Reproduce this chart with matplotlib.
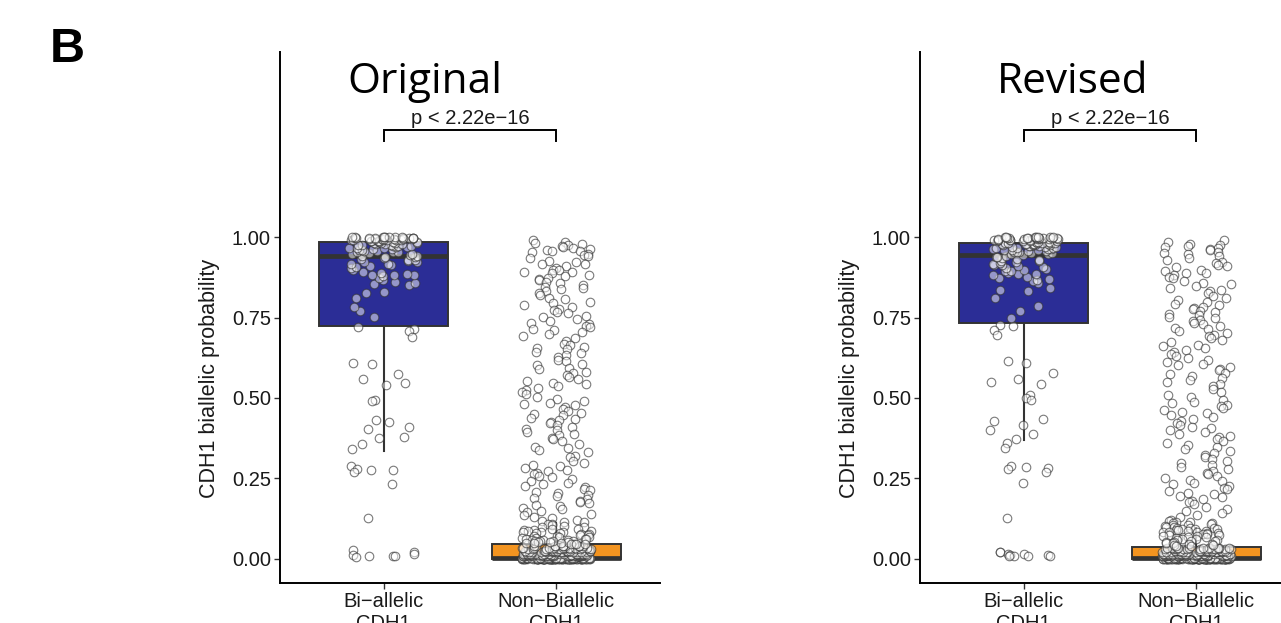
import numpy as np
import matplotlib
matplotlib.use("Agg")
import matplotlib.pyplot as plt

plt.rcParams['font.family'] = ['Liberation Sans', 'DejaVu Sans']

# ---------------- data ----------------
categories = ["Bi\u2212allelic\nCDH1", "Non\u2212Biallelic\nCDH1"]
panel_titles = ["Original", "Revised"]
p_label = "p < 2.22e\u221216"
panel_letter = "B"
y_label = "CDH1 biallelic probability"
y_ticks = [0.0, 0.25, 0.5, 0.75, 1.0]
y_ticklabels = ["0.00", "0.25", "0.50", "0.75", "1.00"]

# box statistics: q1, median, q3, lower whisker, upper whisker
box_orig_bi = [0.725, 0.94, 0.985, 0.335, 1.0]
box_orig_non = [0.0, 0.002, 0.045, 0.0, 0.11]
box_rev_bi = [0.733, 0.944, 0.98, 0.37, 1.0]
box_rev_non = [0.0, 0.002, 0.037, 0.0, 0.095]

bi_orig = [
    0.72, 0.715, 0.708, 0.69, 0.61, 0.605, 0.575, 0.56, 0.545, 0.54, 0.495, 0.49,
    0.43, 0.425, 0.41, 0.405, 0.38, 0.375, 0.357, 0.34, 0.288, 0.28, 0.277, 0.275,
    0.27, 0.233, 0.127, 0.028, 0.02, 0.015, 0.012, 0.01, 0.008, 0.005, 0.01,
    0.752, 0.77, 0.784, 0.81, 0.825, 0.83, 0.851, 0.853, 0.856, 0.859, 0.866, 0.874,
    0.879, 0.881, 0.882, 0.883, 0.884, 0.887, 0.892, 0.897, 0.905, 0.907, 0.911,
    0.913, 0.916, 0.917, 0.921, 0.923, 0.925, 0.928, 0.93, 0.933, 0.934, 0.937, 0.939,
    0.941, 0.942, 0.944, 0.947, 0.948, 0.951, 0.952, 0.953, 0.955, 0.957, 0.958,
    0.96, 0.961, 0.962, 0.963, 0.965, 0.966, 0.967, 0.969, 0.97, 0.971, 0.972,
    0.973, 0.974, 0.975, 0.976, 0.977, 0.978, 0.979, 0.98, 0.981, 0.982, 0.983,
    0.984, 0.985,
    0.986, 0.987, 0.988, 0.988, 0.989, 0.99, 0.99, 0.991, 0.991, 0.992, 0.992,
    0.993, 0.993, 0.994, 0.994, 0.995, 0.995, 0.995, 0.996, 0.996, 0.996, 0.997,
    0.997, 0.997, 0.998, 0.998, 0.998, 0.999, 0.999, 0.999, 1.0, 1.0, 1.0, 1.0, 1.0,
]

bi_rev = [
    0.724, 0.726, 0.711, 0.695, 0.615, 0.608, 0.579, 0.56, 0.55, 0.543, 0.509,
    0.501, 0.494, 0.436, 0.429, 0.415, 0.4, 0.387, 0.374, 0.359, 0.343, 0.289,
    0.284, 0.282, 0.28, 0.271, 0.235, 0.126, 0.02, 0.02, 0.015, 0.015, 0.013,
    0.012, 0.01, 0.01, 0.01, 0.008,
    0.749, 0.77, 0.786, 0.811, 0.832, 0.834, 0.843, 0.858, 0.862, 0.866, 0.87,
    0.874, 0.877, 0.881, 0.884, 0.886, 0.889, 0.893, 0.896, 0.898, 0.9, 0.903,
    0.906, 0.909, 0.912, 0.914, 0.917, 0.92, 0.922, 0.925, 0.927, 0.93, 0.932,
    0.935, 0.937, 0.939, 0.942,
    0.945, 0.946, 0.948, 0.949, 0.951, 0.952, 0.953, 0.955, 0.956, 0.957, 0.959,
    0.96, 0.961, 0.962, 0.963, 0.964, 0.965, 0.966, 0.967, 0.968, 0.969, 0.97,
    0.971, 0.972, 0.973, 0.974, 0.975, 0.975, 0.976, 0.977, 0.977, 0.978, 0.978,
    0.979, 0.979, 0.98, 0.98, 0.98,
    0.981, 0.982, 0.983, 0.984, 0.985, 0.986, 0.987, 0.987, 0.988, 0.989, 0.99,
    0.99, 0.991, 0.991, 0.992, 0.992, 0.993, 0.993, 0.994, 0.994, 0.995, 0.995,
    0.996, 0.996, 0.996, 0.997, 0.997, 0.997, 0.998, 0.998, 0.998, 0.999, 0.999,
    0.999, 1.0, 1.0, 1.0, 1.0,
]

nonbi_orig = [
    0.99, 0.986, 0.981, 0.978, 0.974, 0.973, 0.969, 0.966, 0.964, 0.961, 0.958,
    0.957, 0.953, 0.948, 0.944, 0.941, 0.934,
    0.926, 0.921, 0.917, 0.915, 0.911, 0.904, 0.899, 0.897, 0.892, 0.89, 0.887,
    0.882, 0.879, 0.874, 0.871,
    0.867, 0.861, 0.857, 0.852, 0.846, 0.841, 0.838, 0.833, 0.827, 0.821, 0.811, 0.806,
    0.799, 0.796, 0.789, 0.784, 0.777, 0.773, 0.767, 0.763, 0.756, 0.751, 0.744,
    0.739, 0.733, 0.731, 0.725, 0.721, 0.714, 0.711, 0.704, 0.699, 0.692, 0.686, 0.676,
    0.668, 0.664, 0.658, 0.654, 0.651, 0.644, 0.641, 0.632, 0.628, 0.619, 0.614,
    0.606, 0.601, 0.594, 0.589, 0.582, 0.577, 0.571, 0.564, 0.559, 0.553,
    0.547, 0.544, 0.537, 0.532, 0.526, 0.517, 0.511, 0.502, 0.496,
    0.491, 0.485, 0.481, 0.478, 0.471, 0.467, 0.461, 0.454, 0.451, 0.446, 0.439, 0.436,
    0.431, 0.424, 0.421, 0.415, 0.411, 0.404, 0.401, 0.394, 0.389, 0.385, 0.377, 0.372,
    0.367, 0.356, 0.349, 0.346, 0.337, 0.331, 0.321, 0.316, 0.304,
    0.298, 0.291, 0.289, 0.282, 0.277, 0.273, 0.267, 0.263, 0.257, 0.253, 0.247, 0.243,
    0.237, 0.234, 0.227, 0.224, 0.218, 0.215, 0.208, 0.205, 0.199, 0.196, 0.189, 0.187, 0.181,
    0.177, 0.174, 0.167, 0.164, 0.157, 0.155, 0.148, 0.145, 0.138, 0.136, 0.129, 0.127, 0.121,
    0.118, 0.116, 0.113, 0.109, 0.108, 0.104, 0.103, 0.099, 0.098, 0.094, 0.093,
    0.09, 0.089, 0.087, 0.086, 0.084, 0.083, 0.082, 0.081, 0.079,
    0.078, 0.077, 0.074, 0.073, 0.071, 0.07, 0.069, 0.067, 0.066, 0.064, 0.063,
    0.062, 0.061, 0.06, 0.059, 0.058, 0.057, 0.056, 0.055, 0.054, 0.053, 0.052,
    0.051, 0.05, 0.049, 0.048, 0.047, 0.046, 0.046, 0.045,
]
# dense pile near zero: value levels and how many points sit at each
nonbi_orig_pile_values = [0.0, 0.004, 0.008, 0.012, 0.016, 0.02, 0.025, 0.03, 0.035, 0.04]
nonbi_orig_pile_counts = [70, 30, 24, 20, 18, 16, 14, 12, 11, 10]

nonbi_rev = [
    0.992, 0.985, 0.979, 0.976, 0.972, 0.969, 0.967, 0.963, 0.959, 0.955, 0.951, 0.946, 0.941, 0.936,
    0.928, 0.923, 0.919, 0.914, 0.91, 0.906, 0.899, 0.894, 0.889, 0.887, 0.881, 0.876, 0.872,
    0.864, 0.858, 0.853, 0.849, 0.843, 0.836, 0.831, 0.826, 0.818, 0.811, 0.803,
    0.797, 0.793, 0.789, 0.784, 0.781, 0.776, 0.771, 0.767, 0.762, 0.759, 0.753, 0.749, 0.743,
    0.738, 0.733, 0.729, 0.724, 0.718, 0.713, 0.709, 0.703, 0.697, 0.692, 0.687, 0.681, 0.673,
    0.666, 0.661, 0.655, 0.648, 0.642, 0.637, 0.63, 0.625, 0.618, 0.612,
    0.607, 0.601, 0.597, 0.591, 0.586, 0.579, 0.575, 0.568, 0.562, 0.556, 0.551,
    0.544, 0.536, 0.528, 0.52, 0.51, 0.502, 0.494,
    0.488, 0.483, 0.478, 0.474, 0.468, 0.462, 0.457, 0.452, 0.447, 0.441, 0.434,
    0.428, 0.422, 0.417, 0.411, 0.406, 0.399, 0.394, 0.389, 0.383, 0.378, 0.371,
    0.366, 0.361, 0.354, 0.347, 0.341, 0.336, 0.329, 0.323, 0.317, 0.31, 0.303,
    0.297, 0.291, 0.286, 0.28, 0.274, 0.268, 0.263, 0.257, 0.252, 0.246, 0.241,
    0.237, 0.232, 0.226, 0.221, 0.216, 0.211, 0.206, 0.201, 0.196, 0.191, 0.186, 0.181,
    0.176, 0.169, 0.162, 0.156, 0.149, 0.142, 0.136, 0.129, 0.122,
    0.118, 0.116, 0.114, 0.112, 0.11, 0.108, 0.106, 0.104, 0.102, 0.1, 0.099,
    0.097, 0.096, 0.095, 0.094, 0.093, 0.092, 0.091,
    0.089, 0.088, 0.086, 0.085, 0.083, 0.082, 0.08, 0.079, 0.077, 0.076, 0.074,
    0.073, 0.071, 0.07, 0.068, 0.067, 0.065, 0.064, 0.062, 0.061, 0.059, 0.058,
    0.056, 0.055, 0.053, 0.052, 0.05, 0.049, 0.047, 0.046, 0.044, 0.043, 0.041, 0.04,
]
nonbi_rev_pile_values = [0.0, 0.004, 0.008, 0.012, 0.016, 0.02, 0.025, 0.03, 0.035]
nonbi_rev_pile_counts = [70, 30, 24, 20, 18, 16, 14, 12, 10]

# ---------------- styling ----------------
W, H = 1281, 623
fill_colors = ["#2B2D96", "#F39420"]
edge_col = "#333333"
JIT = 0.2


def jitter(n, phase):
    # deterministic, irregular horizontal spread (position only, not data)
    k = np.arange(n, dtype=float)
    u = (k * 0.7548776662 + k * k * 0.0569840291 + phase) % 1.0
    return (u - 0.5) * 2 * JIT


fig = plt.figure(figsize=(W / 100, H / 100), dpi=100)

panels = [
    dict(left=280, title_x=424.5, stats=[box_orig_bi, box_orig_non],
         groups=[bi_orig, nonbi_orig],
         pile=(nonbi_orig_pile_values, nonbi_orig_pile_counts), title=panel_titles[0]),
    dict(left=920, title_x=1073, stats=[box_rev_bi, box_rev_non],
         groups=[bi_rev, nonbi_rev],
         pile=(nonbi_rev_pile_values, nonbi_rev_pile_counts), title=panel_titles[1]),
]

ax_w, ax_h = 380, 531
ax_bottom = 40

for pi, p in enumerate(panels):
    ax = fig.add_axes([p["left"] / W, ax_bottom / H, ax_w / W, ax_h / H])
    stats = []
    for s in p["stats"]:
        stats.append(dict(q1=s[0], med=s[1], q3=s[2], whislo=s[3], whishi=s[4], fliers=[]))
    bp = ax.bxp(stats, positions=[1, 2], widths=0.75, patch_artist=True,
                showcaps=False, showfliers=False,
                boxprops=dict(edgecolor=edge_col, linewidth=1.4),
                medianprops=dict(color=edge_col, linewidth=3.4, solid_capstyle='butt'),
                whiskerprops=dict(color=edge_col, linewidth=1.5))
    for patch, fc in zip(bp["boxes"], fill_colors):
        patch.set_facecolor(fc)
        patch.set_zorder(1)
    for wl in bp["whiskers"]:
        wl.set_zorder(0.9)

    pile_vals, pile_counts = p["pile"]
    group_vals = [np.array(p["groups"][0], dtype=float),
                  np.concatenate([np.repeat(pile_vals, pile_counts),
                                  np.array(p["groups"][1], dtype=float)])]
    for gi, vals in enumerate(group_vals):
        xs = (gi + 1) + jitter(len(vals), 0.13 + 0.37 * gi + 0.21 * pi)
        ax.scatter(xs, vals, s=38, facecolors=(1, 1, 1, 0.5),
                   edgecolors=(0.2, 0.2, 0.2, 0.65), linewidths=0.8, zorder=3)

    ax.set_xlim(0.4, 2.6)
    ax.set_ylim(-0.075, 1.575)
    ax.set_yticks(y_ticks)
    ax.set_yticklabels(y_ticklabels)
    ax.set_xticks([1, 2])
    ax.set_xticklabels(categories)
    ax.tick_params(axis='both', length=4, width=1.0, color='#333333',
                   labelsize=14.5, labelcolor='#1a1a1a', pad=2.5)
    for sp in ["top", "right"]:
        ax.spines[sp].set_visible(False)
    for sp in ["left", "bottom"]:
        ax.spines[sp].set_linewidth(1.4)
        ax.spines[sp].set_color('black')
    ax.set_facecolor('none')

    ax.set_ylabel(y_label, fontsize=15.5, color='#1a1a1a')
    ax.yaxis.set_label_coords(-0.158, (583 - 378) / ax_h)

    # significance bracket
    ax.plot([1, 1, 2, 2], [1.298, 1.332, 1.332, 1.298], color='black',
            lw=1.4, solid_joinstyle='miter', clip_on=False)
    ax.text(1.5, 1.351, p_label, ha='center', va='baseline', fontsize=14.5,
            color='#1a1a1a')

    fig.text(p["title_x"] / W, 1 - 93 / H, p["title"], ha='center', va='baseline',
             fontsize=30.5, family=['Open Sans', 'DejaVu Sans'])

fig.text(50 / W, 1 - 62 / H, panel_letter, ha='left', va='baseline',
         fontsize=35, fontweight='bold')

fig.savefig("out.png", dpi=100)
